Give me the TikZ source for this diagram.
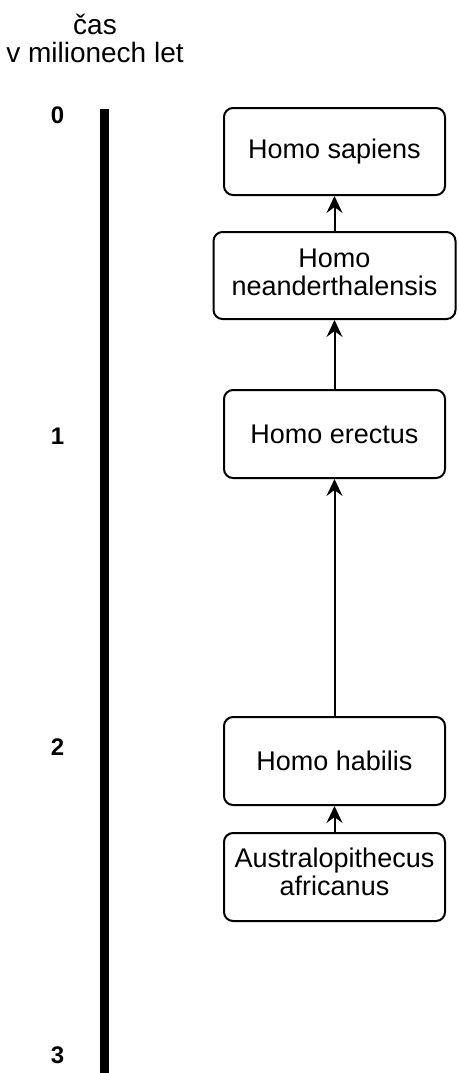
\documentclass[tikz,border=0pt]{standalone}
\usepackage{fontspec}
\setmainfont{Liberation Sans}
\usetikzlibrary{arrows.meta}
\begin{document}
\begin{tikzpicture}[x=1pt,y=-1pt,
  taxon/.style={draw, line width=2pt, rounded corners=9pt, minimum width=221pt,
    minimum height=87pt, align=center, inner sep=0pt,
    font=\fontsize{27}{28}\selectfont},
  descent/.style={line width=2pt, -{Stealth[length=17pt,width=16pt,inset=6pt]}},
  tickmark/.style={font=\fontsize{24}{28}\selectfont\bfseries},
  heading/.style={anchor=base, font=\fontsize{28}{30}\selectfont},
  axis/.style={line width=9pt}
]
\useasboundingbox (0,0) rectangle (458,1073);

% axis heading
\node[heading] (unitA) at (95,35) {čas};
\node[heading] (unitB) at (95,63) {v milionech let};

% time axis
\coordinate (axtop) at (104.5,109);
\coordinate (axbot) at (104.5,1073);
\draw[axis] (axtop) -- (axbot);

% axis ticks
\node[tickmark] (t0) at (57.5,115) {0};
\node[tickmark] (t1) at (57.5,436) {1};
\node[tickmark] (t2) at (57.5,747.5) {2};
\node[tickmark] (t3) at (57.5,1055.5) {3};

% species
\node[taxon] (sapiens) at (334.5,151.5) {Homo sapiens};
\node[taxon, minimum width=242pt] (neander) at (334.5,275.5)
  {Homo\\neanderthalensis\rule[-6pt]{0pt}{6pt}};
\node[taxon, minimum height=88pt] (erectus) at (334.5,434) {Homo erectus};
\node[taxon, minimum height=88pt] (habilis) at (334.5,761) {Homo habilis};
\node[taxon, minimum height=88pt] (austral) at (334.5,877)
  {Australopithecus\\africanus\rule[-10pt]{0pt}{10pt}};

% lines of descent
\draw[descent] (neander.north) -- (sapiens.south);
\draw[descent] (erectus.north) -- (neander.south);
\draw[descent] (habilis.north) -- (erectus.south);
\draw[descent] (austral.north) -- (habilis.south);
\end{tikzpicture}
\end{document}
